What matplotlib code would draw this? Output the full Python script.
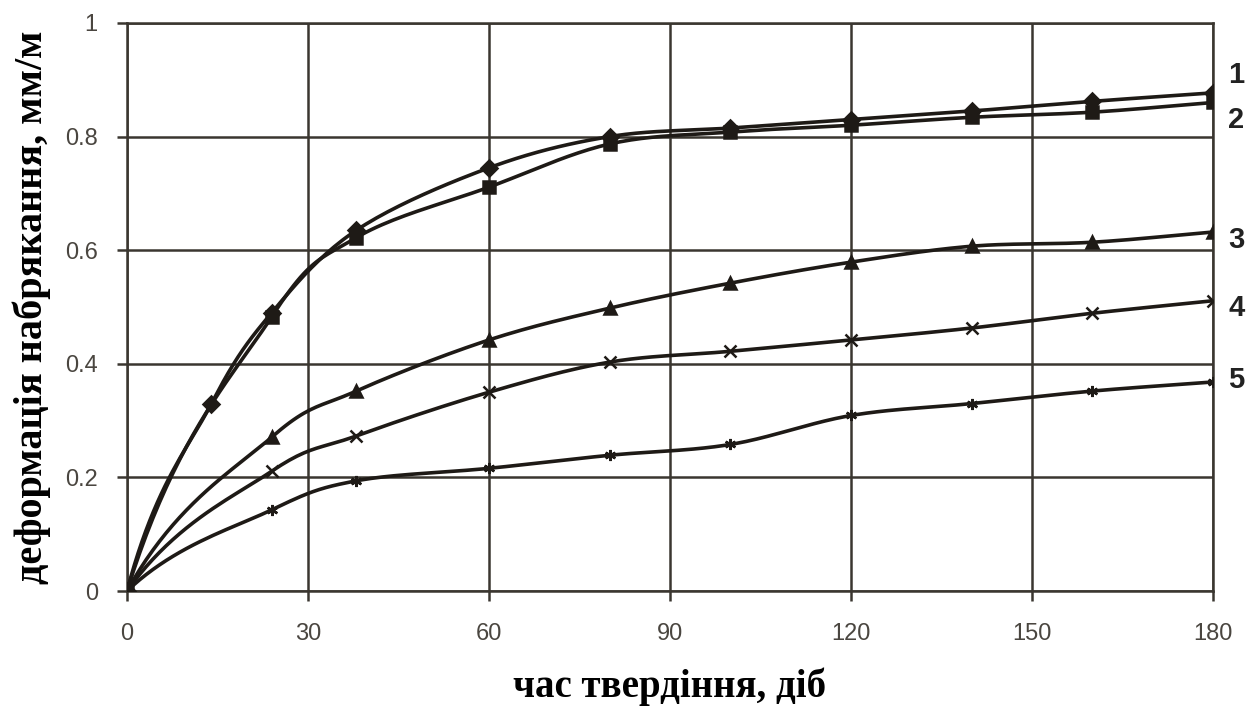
import numpy as np
import matplotlib.pyplot as plt

# days of hardening
days = [0, 24, 38, 60, 80, 100, 120, 140, 160, 180]
days1 = [0, 14, 24, 38, 60, 80, 100, 120, 140, 160, 180]

# swelling deformation, mm/m
s1 = [0, 0.33, 0.49, 0.635, 0.745, 0.80, 0.815, 0.83, 0.845, 0.862, 0.877]
s2 = [0, 0.483, 0.622, 0.711, 0.787, 0.808, 0.82, 0.834, 0.843, 0.86]
s3 = [0, 0.271, 0.352, 0.442, 0.498, 0.542, 0.579, 0.607, 0.614, 0.632]
s4 = [0, 0.211, 0.273, 0.35, 0.403, 0.422, 0.442, 0.463, 0.489, 0.511]
s5 = [0, 0.143, 0.194, 0.216, 0.239, 0.258, 0.309, 0.33, 0.352, 0.368]

curve_labels = ["1", "2", "3", "4", "5"]


def smooth(x, y, n=24):
    # hermite / catmull-rom through the points, like excel "smoothed line";
    # steeper start tangent so the curve bends out of the origin
    P = np.column_stack([x, y]).astype(float)
    T = np.zeros_like(P)
    T[1:-1] = 0.5 * (P[2:] - P[:-2])
    T[0] = (P[1] - P[0]) * [1.0, 1.7]
    T[-1] = P[-1] - P[-2]
    t = np.linspace(0, 1, n)[:, None]
    h00 = 2 * t ** 3 - 3 * t ** 2 + 1
    h10 = t ** 3 - 2 * t ** 2 + t
    h01 = -2 * t ** 3 + 3 * t ** 2
    h11 = t ** 3 - t ** 2
    pts = []
    for i in range(len(P) - 1):
        pts.append(h00 * P[i] + h10 * T[i] + h01 * P[i + 1] + h11 * T[i + 1])
    pts = np.vstack(pts)
    return pts[:, 0], pts[:, 1]


fig = plt.figure(figsize=(12.56, 7.09), dpi=100)
ax = fig.add_axes([0.1011, 0.1664, 0.8647, 0.8012])

ink = "#1e1a16"
series = [(days1, s1, "D"), (days, s2, "s"), (days, s3, "^"),
          (days, s4, "x"), (days, s5, (6, 2, 0))]

for x, y, m in series:
    sx, sy = smooth(x, y)
    ax.plot(sx, sy, color=ink, lw=2.6, zorder=3)
    ax.plot(x, y, ls="none", marker=m, color=ink, ms=8, mew=1.8, zorder=4)

label_y = [0.908, 0.829, 0.618, 0.498, 0.371]
for lab, yy in zip(curve_labels, label_y):
    ax.text(182.5, yy, lab, fontsize=21, fontweight="bold", color="#222",
            va="center", ha="left", family="Liberation Sans", clip_on=False)

ax.set_xlim(0, 180)
ax.set_ylim(0, 1)
ax.set_xticks([0, 30, 60, 90, 120, 150, 180])
ax.set_yticks([0, 0.2, 0.4, 0.6, 0.8, 1])
ax.set_yticklabels(["0", "0.2", "0.4", "0.6", "0.8", "1"])
ax.grid(True, color="#3a3630", lw=1.8)
ax.set_axisbelow(True)
for sp in ax.spines.values():
    sp.set_color("#3a3630")
    sp.set_linewidth(1.8)
ax.tick_params(length=7, width=1.8, color="#3a3630", labelsize=17,
               labelcolor="#4a4640")
ax.tick_params(axis="x", pad=16)
ax.tick_params(axis="y", pad=14)
for t in ax.get_xticklabels() + ax.get_yticklabels():
    t.set_family("Liberation Sans")

ax.set_xlabel("час твердіння, діб", fontsize=28, fontweight="bold",
              family="Liberation Serif", labelpad=16)
ax.set_ylabel("деформація набрякання, мм/м", fontsize=29, fontweight="bold",
              family="Liberation Serif", labelpad=10)

fig.savefig("out.png", dpi=100)
